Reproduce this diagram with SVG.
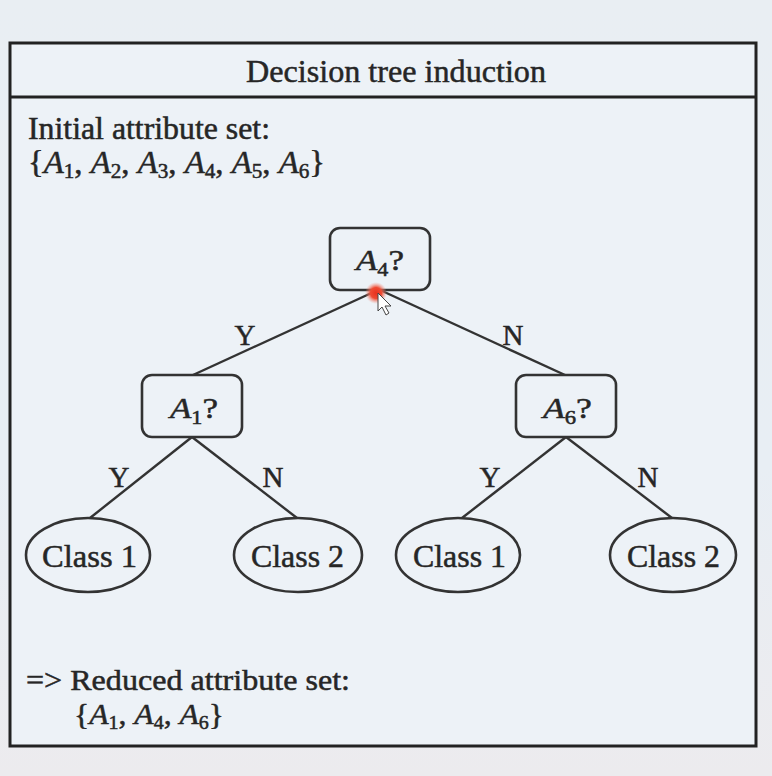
<svg xmlns="http://www.w3.org/2000/svg" width="772" height="776" viewBox="0 0 772 776">
<defs>
<style>
.t{font-family:"Liberation Serif","Times New Roman",serif;fill:#262626;stroke:#262626;stroke-width:0.5;}
.i{font-style:italic;}
.node{fill:none;stroke:#333;stroke-width:2.6;}
.edge{stroke:#333;stroke-width:2.4;fill:none;}
</style>
<linearGradient id="bg" x1="0" y1="0" x2="0" y2="1">
<stop offset="0" stop-color="#e9eef3"/>
<stop offset="0.6" stop-color="#e8eef4"/>
<stop offset="1" stop-color="#ecebee"/>
</linearGradient>
<radialGradient id="dot">
<stop offset="0" stop-color="#e8321e"/>
<stop offset="0.5" stop-color="#ef4a32"/>
<stop offset="1" stop-color="#f4a090" stop-opacity="0"/>
</radialGradient>
</defs>
<rect width="772" height="776" fill="url(#bg)"/>
<rect x="10" y="43" width="746" height="703" fill="#edf2f7"/>

<g id="frame">
<rect x="10" y="43" width="746" height="703" fill="none" stroke="#222" stroke-width="3"/>
<line x1="10" y1="97" x2="756" y2="97" stroke="#222" stroke-width="3"/>
</g>

<g id="title"><text class="t" x="246" y="82" font-size="32" textLength="300" lengthAdjust="spacingAndGlyphs">Decision tree induction</text></g>

<g id="initial">
<text class="t" x="28" y="139" font-size="31" textLength="242" lengthAdjust="spacingAndGlyphs">Initial attribute set:</text>
<text class="t" x="28" y="173" font-size="31" textLength="297" lengthAdjust="spacingAndGlyphs">{<tspan class="i">A</tspan><tspan font-size="20" dy="5">1</tspan><tspan dy="-5">, </tspan><tspan class="i">A</tspan><tspan font-size="20" dy="5">2</tspan><tspan dy="-5">, </tspan><tspan class="i">A</tspan><tspan font-size="20" dy="5">3</tspan><tspan dy="-5">, </tspan><tspan class="i">A</tspan><tspan font-size="20" dy="5">4</tspan><tspan dy="-5">, </tspan><tspan class="i">A</tspan><tspan font-size="20" dy="5">5</tspan><tspan dy="-5">, </tspan><tspan class="i">A</tspan><tspan font-size="20" dy="5">6</tspan><tspan dy="-5">}</tspan></text>
</g>

<g id="connectors">
<line class="edge" x1="378" y1="290" x2="193" y2="375"/>
<line class="edge" x1="380" y1="290" x2="565" y2="375"/>
<line class="edge" x1="192" y1="437" x2="90" y2="518"/>
<line class="edge" x1="192" y1="437" x2="297" y2="518"/>
<line class="edge" x1="566" y1="437" x2="462" y2="518"/>
<line class="edge" x1="566" y1="437" x2="672" y2="518"/>
<text class="t" x="245" y="345" font-size="29" text-anchor="middle">Y</text>
<text class="t" x="513" y="345" font-size="29" text-anchor="middle">N</text>
<text class="t" x="119" y="487" font-size="29" text-anchor="middle">Y</text>
<text class="t" x="273" y="487" font-size="29" text-anchor="middle">N</text>
<text class="t" x="490" y="487" font-size="29" text-anchor="middle">Y</text>
<text class="t" x="648" y="487" font-size="29" text-anchor="middle">N</text>
</g>

<g id="n-a4">
<rect class="node" x="330" y="228" width="100" height="62" rx="10"/>
<text class="t" x="356" y="270" font-size="30" textLength="48" lengthAdjust="spacingAndGlyphs"><tspan class="i">A</tspan><tspan font-size="19" dy="6">4</tspan><tspan dy="-6">?</tspan></text>
</g>
<g id="n-a1">
<rect class="node" x="142" y="375" width="100" height="62" rx="10"/>
<text class="t" x="170" y="418" font-size="30" textLength="48" lengthAdjust="spacingAndGlyphs"><tspan class="i">A</tspan><tspan font-size="19" dy="6">1</tspan><tspan dy="-6">?</tspan></text>
</g>
<g id="n-a6">
<rect class="node" x="516" y="375" width="100" height="62" rx="10"/>
<text class="t" x="543" y="418" font-size="30" textLength="49" lengthAdjust="spacingAndGlyphs"><tspan class="i">A</tspan><tspan font-size="19" dy="6">6</tspan><tspan dy="-6">?</tspan></text>
</g>

<g id="n-c1a">
<ellipse class="node" cx="88" cy="555" rx="62" ry="37"/>
<text class="t" x="42" y="567" font-size="32" textLength="95" lengthAdjust="spacingAndGlyphs">Class 1</text>
</g>
<g id="n-c2a">
<ellipse class="node" cx="298" cy="555" rx="64" ry="37"/>
<text class="t" x="251" y="567" font-size="32" textLength="93" lengthAdjust="spacingAndGlyphs">Class 2</text>
</g>
<g id="n-c1b">
<ellipse class="node" cx="458" cy="555" rx="62" ry="37"/>
<text class="t" x="413" y="567" font-size="32" textLength="93" lengthAdjust="spacingAndGlyphs">Class 1</text>
</g>
<g id="n-c2b">
<ellipse class="node" cx="673" cy="555" rx="63" ry="37"/>
<text class="t" x="627" y="567" font-size="32" textLength="93" lengthAdjust="spacingAndGlyphs">Class 2</text>
</g>

<g id="reduced">
<text class="t" x="26" y="690" font-size="30" textLength="324" lengthAdjust="spacingAndGlyphs">=&gt; Reduced attribute set:</text>
<text class="t" x="74" y="724" font-size="30" textLength="150" lengthAdjust="spacingAndGlyphs">{<tspan class="i">A</tspan><tspan font-size="19" dy="5">1</tspan><tspan dy="-5">, </tspan><tspan class="i">A</tspan><tspan font-size="19" dy="5">4</tspan><tspan dy="-5">, </tspan><tspan class="i">A</tspan><tspan font-size="19" dy="5">6</tspan><tspan dy="-5">}</tspan></text>
</g>

<g id="pointer">
<circle cx="376" cy="293" r="11" fill="url(#dot)"/>
<path d="M378 293 L378 311 L382 307 L386 315 L389 313 L385 306 L391 306 Z" fill="#fff" stroke="#444" stroke-width="1"/>
</g>
</svg>
